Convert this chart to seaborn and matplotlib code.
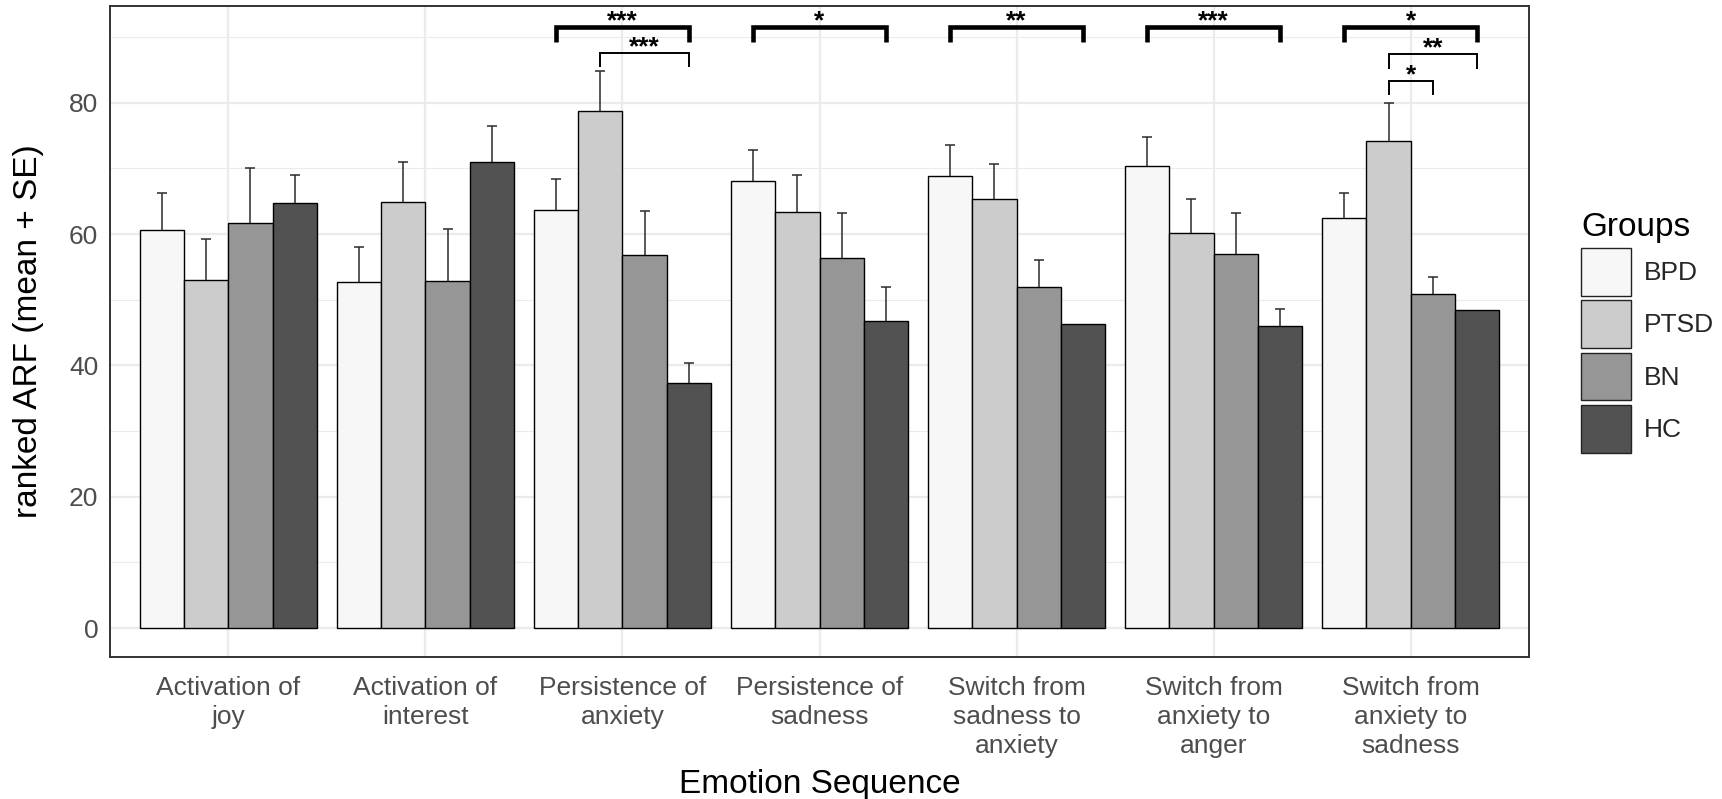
import numpy as np
import pandas as pd
import matplotlib
matplotlib.use("Agg")
import matplotlib.pyplot as plt
import seaborn as sns

# ---------------- data ----------------
sequences = ["Activation of\njoy", "Activation of\ninterest", "Persistence of\nanxiety",
             "Persistence of\nsadness", "Switch from\nsadness to\nanxiety",
             "Switch from\nanxiety to\nanger", "Switch from\nanxiety to\nsadness"]
groups = ["BPD", "PTSD", "BN", "HC"]
group_colors = ["#F7F7F7", "#CCCCCC", "#969696", "#525252"]

mean_bpd = [60.6, 52.7, 63.7, 68.1, 68.9, 70.4, 62.4]
se_bpd = [5.7, 5.3, 4.7, 4.7, 4.6, 4.4, 3.9]
mean_ptsd = [53.0, 64.9, 78.8, 63.3, 65.3, 60.1, 74.1]
se_ptsd = [6.3, 6.0, 6.0, 5.7, 5.4, 5.2, 5.8]
mean_bn = [61.7, 52.8, 56.8, 56.3, 52.0, 56.9, 50.9]
se_bn = [8.4, 7.9, 6.7, 6.9, 4.0, 6.3, 2.6]
mean_hc = [64.7, 71.0, 37.3, 46.7, 46.3, 46.0, 48.4]
se_hc = [4.3, 5.5, 3.1, 5.3, 0.0, 2.6, 0.0]

# significance brackets
bracket_seq = [2, 2, 3, 4, 5, 6, 6, 6]
bracket_from = ["BPD", "PTSD", "BPD", "BPD", "BPD", "BPD", "PTSD", "PTSD"]
bracket_to = ["HC", "HC", "HC", "HC", "HC", "HC", "HC", "BN"]
bracket_y = [91.5, 87.6, 91.5, 91.5, 91.5, 91.5, 87.4, 83.3]
bracket_label = ["***", "***", "*", "**", "***", "*", "**", "*"]
bracket_thick = [True, False, True, True, True, True, False, False]

y_ticks = [0, 20, 40, 60, 80]
y_minor = [10, 30, 50, 70, 90]

means = {"BPD": mean_bpd, "PTSD": mean_ptsd, "BN": mean_bn, "HC": mean_hc}
ses = {"BPD": se_bpd, "PTSD": se_ptsd, "BN": se_bn, "HC": se_hc}

df = pd.DataFrame([
    {"sequence": s, "group": g, "mean": means[g][i], "se": ses[g][i]}
    for g in groups for i, s in enumerate(sequences)
])

# ---------------- style ----------------
sns.set_style("white")
plt.rcParams["font.family"] = ["Liberation Sans", "DejaVu Sans"]

W, H = 1722, 799
fig = plt.figure(figsize=(W / 100, H / 100), dpi=100)
ax = fig.add_axes([110 / W, (H - 657) / H, (1529 - 110) / W, (657 - 5.5) / H])

sns.barplot(data=df, x="sequence", y="mean", hue="group", order=sequences,
            hue_order=groups, palette=group_colors, edgecolor="black",
            linewidth=1.0, width=0.9, errorbar=None, saturation=1, ax=ax)

# error bars (mean + SE) from bar positions
centers = {}
for g, cont in zip(groups, ax.containers):
    xs = [p.get_x() + p.get_width() / 2 for p in cont.patches]
    centers[g] = xs
    m = np.array(means[g])
    s = np.array(ses[g])
    keep = s > 0
    xk = np.array(xs)[keep]
    eb = ax.errorbar(xk, m[keep], yerr=[np.zeros(keep.sum()), s[keep]],
                     fmt="none", ecolor="#2b2b2b", elinewidth=1.1,
                     capsize=3.6, capthick=1.1, zorder=1)
    eb[1][0].set_visible(False)

# brackets
for k in range(len(bracket_seq)):
    i = bracket_seq[k]
    x1 = centers[bracket_from[k]][i]
    x2 = centers[bracket_to[k]][i]
    y = bracket_y[k]
    lw = 3.3 if bracket_thick[k] else 1.4
    ax.plot([x1, x1, x2, x2], [y - 2.2, y, y, y - 2.2], color="black", lw=lw,
            solid_joinstyle="miter", solid_capstyle="butt", zorder=5, clip_on=False)
    ax.text((x1 + x2) / 2, y + 0.9, bracket_label[k], ha="center", va="center",
            fontsize=19, fontweight="bold", color="black", zorder=6)

ax.set_xlim(-0.6, len(sequences) - 0.4)
ax.set_ylim(-4.4, 94.8)
ax.set_yticks(y_ticks)
ax.set_yticks(y_minor, minor=True)

# grid
ax.set_axisbelow(True)
ax.grid(True, which="major", axis="both", color="#EBEBEB", lw=1.6)
ax.grid(True, which="minor", axis="y", color="#EBEBEB", lw=0.8)

for sp in ax.spines.values():
    sp.set_visible(True)
    sp.set_color("#333333")
    sp.set_linewidth(1.4)

ax.tick_params(axis="both", which="major", direction="out", length=5.5, width=1.3,
               color="#333333", labelcolor="#4D4D4D", labelsize=19, pad=3)
ax.tick_params(axis="x", which="major", pad=8)
ax.tick_params(axis="y", which="minor", length=0)
for lab in ax.get_xticklabels():
    lab.set_linespacing(1.26)

ax.set_xlabel("Emotion Sequence", fontsize=24, color="black", labelpad=8)
ax.set_ylabel("ranked ARF (mean + SE)", fontsize=24, color="black", labelpad=18)

# legend
handles, labels = ax.get_legend_handles_labels()
if ax.get_legend() is not None:
    ax.get_legend().remove()
fig.text(1581 / W, 1 - 236 / H, "Groups", fontsize=24, color="black",
         ha="left", va="baseline")
leg = fig.legend(handles, labels, loc="upper left",
                 bbox_to_anchor=(1581 / W, 1 - 248 / H), frameon=False,
                 fontsize=19, handlelength=1.9, handleheight=2.4,
                 labelspacing=0.18, handletextpad=0.5,
                 borderpad=0, borderaxespad=0)
for h in leg.legend_handles:
    h.set_edgecolor("#222222")
    h.set_linewidth(1.0)

fig.savefig("out.png", dpi=100)
